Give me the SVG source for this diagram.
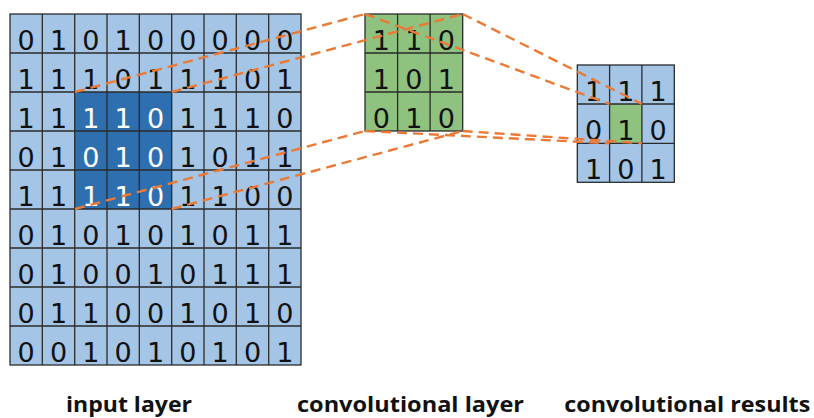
<svg xmlns="http://www.w3.org/2000/svg" width="814" height="418" viewBox="0 0 814 418">
  <style>
    .lb { fill: #a4c5e6; }
    .db { fill: #2e6fb0; }
    .gr { fill: #8fc27e; }
    .cell { stroke: #2b2b2b; stroke-width: 1.3; }
    .d { font-family: "DejaVu Sans", "Liberation Sans", sans-serif; font-size: 27px; fill: #111; text-anchor: middle; }
    .dw { fill: #ffffff; }
    .lbl { font-family: "Open Sans", "Liberation Sans", sans-serif; font-weight: 700; font-size: 21px; fill: #111; text-anchor: middle; }
    .cn { fill: none; stroke: #ea7a36; stroke-width: 2.4; stroke-dasharray: 10 6; }
  </style>

  <!-- input layer: 9x9 grid, 3x3 window highlighted -->
  <g id="input-layer">
    <rect x="10" y="14" width="291" height="351" class="lb"/>
    <rect x="75" y="92" width="97" height="117" class="db"/>
    <g class="cell" fill="none">
      <rect x="10" y="14" width="291" height="351"/>
      <path d="M42.3 14V365M74.7 14V365M107 14V365M139.3 14V365M171.7 14V365M204 14V365M236.3 14V365M268.7 14V365"/>
      <path d="M10 53H301M10 92H301M10 131H301M10 170H301M10 209H301M10 248H301M10 287H301M10 326H301"/>
    </g>
    <g class="d">
      <text y="49.5"><tspan x="26.2">0</tspan><tspan x="58.5">1</tspan><tspan x="90.8">0</tspan><tspan x="123.2">1</tspan><tspan x="155.5">0</tspan><tspan x="187.8">0</tspan><tspan x="220.2">0</tspan><tspan x="252.5">0</tspan><tspan x="284.8">0</tspan></text>
      <text y="88.5"><tspan x="26.2">1</tspan><tspan x="58.5">1</tspan><tspan x="90.8">1</tspan><tspan x="123.2">0</tspan><tspan x="155.5">1</tspan><tspan x="187.8">1</tspan><tspan x="220.2">1</tspan><tspan x="252.5">0</tspan><tspan x="284.8">1</tspan></text>
      <text y="127.5"><tspan x="26.2">1</tspan><tspan x="58.5">1</tspan><tspan x="90.8" class="dw">1</tspan><tspan x="123.2" class="dw">1</tspan><tspan x="155.5" class="dw">0</tspan><tspan x="187.8">1</tspan><tspan x="220.2">1</tspan><tspan x="252.5">1</tspan><tspan x="284.8">0</tspan></text>
      <text y="166.5"><tspan x="26.2">0</tspan><tspan x="58.5">1</tspan><tspan x="90.8" class="dw">0</tspan><tspan x="123.2" class="dw">1</tspan><tspan x="155.5" class="dw">0</tspan><tspan x="187.8">1</tspan><tspan x="220.2">0</tspan><tspan x="252.5">1</tspan><tspan x="284.8">1</tspan></text>
      <text y="205.5"><tspan x="26.2">1</tspan><tspan x="58.5">1</tspan><tspan x="90.8" class="dw">1</tspan><tspan x="123.2" class="dw">1</tspan><tspan x="155.5" class="dw">0</tspan><tspan x="187.8">1</tspan><tspan x="220.2">1</tspan><tspan x="252.5">0</tspan><tspan x="284.8">0</tspan></text>
      <text y="244.5"><tspan x="26.2">0</tspan><tspan x="58.5">1</tspan><tspan x="90.8">0</tspan><tspan x="123.2">1</tspan><tspan x="155.5">0</tspan><tspan x="187.8">1</tspan><tspan x="220.2">0</tspan><tspan x="252.5">1</tspan><tspan x="284.8">1</tspan></text>
      <text y="283.5"><tspan x="26.2">0</tspan><tspan x="58.5">1</tspan><tspan x="90.8">0</tspan><tspan x="123.2">0</tspan><tspan x="155.5">1</tspan><tspan x="187.8">0</tspan><tspan x="220.2">1</tspan><tspan x="252.5">1</tspan><tspan x="284.8">1</tspan></text>
      <text y="322.5"><tspan x="26.2">0</tspan><tspan x="58.5">1</tspan><tspan x="90.8">1</tspan><tspan x="123.2">0</tspan><tspan x="155.5">0</tspan><tspan x="187.8">1</tspan><tspan x="220.2">0</tspan><tspan x="252.5">1</tspan><tspan x="284.8">0</tspan></text>
      <text y="361.5"><tspan x="26.2">0</tspan><tspan x="58.5">0</tspan><tspan x="90.8">1</tspan><tspan x="123.2">0</tspan><tspan x="155.5">1</tspan><tspan x="187.8">0</tspan><tspan x="220.2">1</tspan><tspan x="252.5">0</tspan><tspan x="284.8">1</tspan></text>
    </g>
  </g>

  <!-- convolution kernel 3x3 -->
  <g id="kernel">
    <rect x="365" y="14" width="97.7" height="117" class="gr"/>
    <g class="cell" fill="none">
      <rect x="365" y="14" width="97.7" height="117"/>
      <path d="M397.6 14V131M430.1 14V131M365 53H462.7M365 92H462.7"/>
    </g>
    <g class="d">
      <text y="49.5"><tspan x="381.3">1</tspan><tspan x="413.8">1</tspan><tspan x="446.4">0</tspan></text>
      <text y="88.5"><tspan x="381.3">1</tspan><tspan x="413.8">0</tspan><tspan x="446.4">1</tspan></text>
      <text y="127.5"><tspan x="381.3">0</tspan><tspan x="413.8">1</tspan><tspan x="446.4">0</tspan></text>
    </g>
  </g>

  <!-- result map 3x3, centre cell highlighted -->
  <g id="result">
    <rect x="577.3" y="65" width="97" height="117.3" class="lb"/>
    <rect x="609.6" y="104" width="32.3" height="39.3" class="gr"/>
    <g class="cell" fill="none">
      <rect x="577.3" y="65" width="97" height="117.3"/>
      <path d="M609.6 65V182.3M641.9 65V182.3M577.3 104H674.3M577.3 143.3H674.3"/>
    </g>
    <g class="d">
      <text y="100.5"><tspan x="593.5">1</tspan><tspan x="625.8">1</tspan><tspan x="658.1">1</tspan></text>
      <text y="139.5"><tspan x="593.5">0</tspan><tspan x="625.8">1</tspan><tspan x="658.1">0</tspan></text>
      <text y="178.5"><tspan x="593.5">1</tspan><tspan x="625.8">0</tspan><tspan x="658.1">1</tspan></text>
    </g>
  </g>

  <!-- projection lines: window -> kernel -> output cell -->
  <g id="connectors" class="cn">
    <path d="M75 92L365 14"/>
    <path d="M171.7 92L462.7 14"/>
    <path d="M75 209L365 131"/>
    <path d="M171.7 209L462.7 131"/>
    <path d="M365 14L609.6 104"/>
    <path d="M462.7 14L641.9 104"/>
    <path d="M365 131L609.6 143.3"/>
    <path d="M462.7 131L641.9 143.3"/>
  </g>

  <g id="labels" class="lbl">
    <text x="129" y="412" textLength="126" lengthAdjust="spacingAndGlyphs">input layer</text>
    <text x="410.5" y="412" textLength="227" lengthAdjust="spacingAndGlyphs">convolutional layer</text>
    <text x="687.3" y="412" textLength="246" lengthAdjust="spacingAndGlyphs">convolutional results</text>
  </g>
</svg>
